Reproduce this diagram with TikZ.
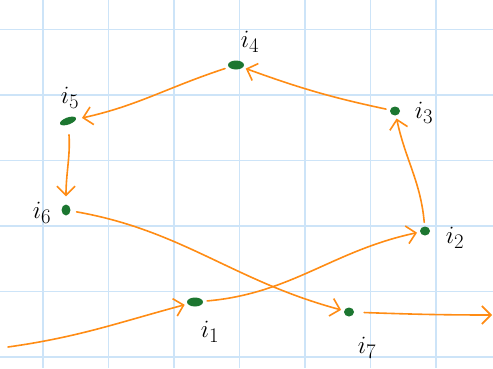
\documentclass[tikz,border=0pt]{standalone}
\usetikzlibrary{arrows.meta,shapes.geometric}
\definecolor{gridblue}{RGB}{205,228,248}
\definecolor{dotgreen}{RGB}{28,118,48}
\definecolor{penorange}{RGB}{255,140,20}
\tikzset{
  dot/.style={ellipse,fill=dotgreen,inner sep=0pt,minimum width=10pt,minimum height=9pt},
  lbl/.style={font=\fontsize{31}{34}\selectfont,inner sep=0pt},
  flow/.style={draw=penorange,line width=1.6pt,line cap=round,
    -{Straight Barb[length=9pt,width=18pt,line width=1.6pt]},
    shorten <=4pt,shorten >=3pt}
}
\begin{document}
\begin{tikzpicture}[x=1pt,y=1pt]
\useasboundingbox (0,0) rectangle (493,368);
\fill[white] (0,0) rectangle (493,368);
\foreach \k in {0,...,6} {
  \draw[gridblue,line width=1.2pt] ({43+65.5*\k},0) -- ({43+65.5*\k},368);
}
\foreach \k in {0,...,5} {
  \draw[gridblue,line width=1.2pt] (0,{11+65.5*\k}) -- (493,{11+65.5*\k});
}
% points
\node[dot,minimum width=16pt] (i1) at (195,66) {};
\node[dot] (i2) at (425,137) {};
\node[dot] (i3) at (395,257) {};
\node[dot,minimum width=16pt] (i4) at (236,303) {};
\node[dot,minimum width=17pt,minimum height=7pt,rotate=20] (i5) at (68,247) {};
\node[dot,minimum width=9pt,minimum height=11pt] (i6) at (66,158) {};
\node[dot] (i7) at (349,56) {};
\coordinate (in) at (8,21);
\coordinate (out) at (492,53);
% labels
\node[lbl] (li1) at (210,36) {$i_1$};
\node[lbl] (li2) at (455,130) {$i_2$};
\node[lbl] (li3) at (424,255) {$i_3$};
\node[lbl] (li4) at (250,326) {$i_4$};
\node[lbl] (li5) at (70,270) {$i_5$};
\node[lbl] (li6) at (42,155) {$i_6$};
\node[lbl] (li7) at (367,20) {$i_7$};
% connectors
\draw[flow,shorten <=0pt] (in) to[out=8,in=195] (i1);
\draw[flow] (i1) to[out=5,in=192] (i2);
\draw[flow] (i2) to[out=95,in=-78] (i3);
\draw[flow] (i3) to[out=168,in=-20] (i4);
\draw[flow,shorten >=6pt] (i4) to[out=198,in=10] (i5);
\draw[flow,shorten <=10pt,shorten >=8pt] (i5) to[out=-88,in=90] (i6);
\draw[flow,shorten <=6pt] (i6) to[out=-10,in=165] (i7);
\draw[flow,shorten >=0pt,shorten <=10pt] (i7) to[out=-2,in=180] (out);
\end{tikzpicture}
\end{document}
